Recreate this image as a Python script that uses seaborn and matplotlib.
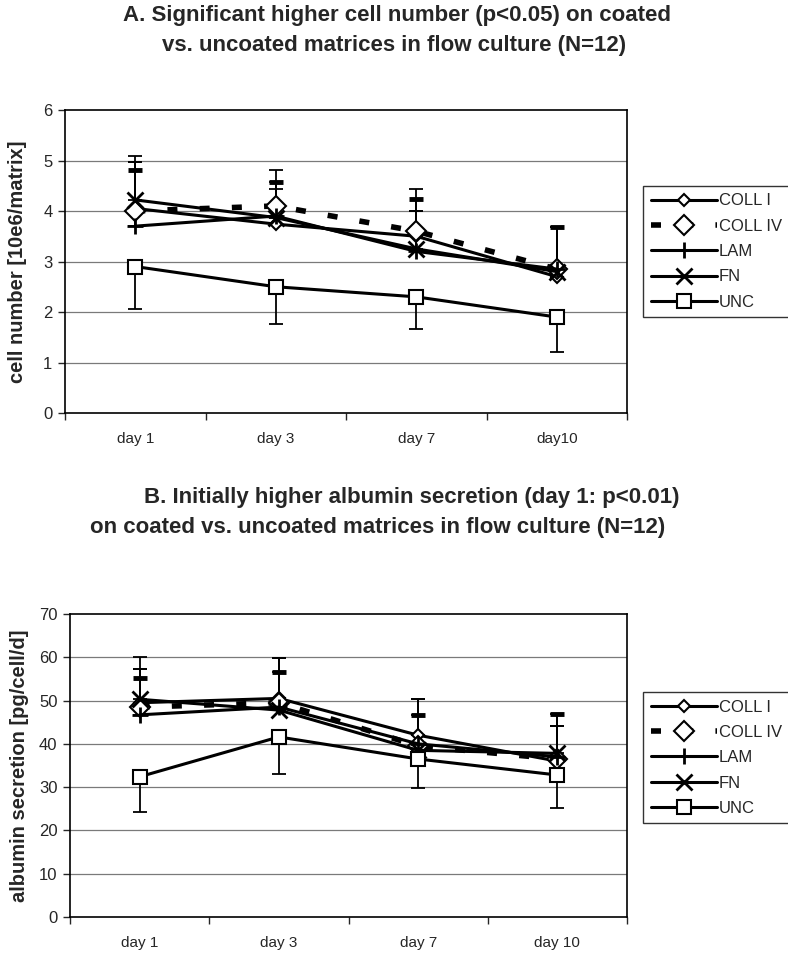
import numpy as np
import pandas as pd
import matplotlib as mpl
mpl.use("Agg")
import matplotlib.pyplot as plt
import seaborn as sns

sns.set_style("white")
plt.rcParams['font.family'] = ['Liberation Sans', 'DejaVu Sans']

series = ['COLL I', 'COLL IV', 'LAM', 'FN', 'UNC']
days_a = ['day 1', 'day 3', 'day 7', 'day10']
days_b = ['day 1', 'day 3', 'day 7', 'day 10']

# A: cell number [10e6/matrix]
cell_mean = {
    'COLL I':  [4.05, 3.74, 3.50, 2.70],
    'COLL IV': [4.00, 4.10, 3.60, 2.85],
    'LAM':     [3.70, 3.90, 3.20, 2.85],
    'FN':      [4.22, 3.87, 3.25, 2.80],
    'UNC':     [2.90, 2.50, 2.30, 1.90],
}
# upper error bar ends (coated) / lower ends (uncoated)
cell_err_end = {
    'COLL I':  [4.97, 4.43, 4.00, 3.68],
    'COLL IV': [4.82, 4.57, 4.23, 3.68],
    'LAM':     [4.97, 4.57, 4.00, 3.68],
    'FN':      [5.08, 4.82, 4.43, 3.68],
    'UNC':     [2.06, 1.77, 1.67, 1.20],
}

# B: albumin secretion [pg/cell/d]
alb_mean = {
    'COLL I':  [49.5, 50.5, 42.0, 36.0],
    'COLL IV': [48.5, 49.5, 39.5, 36.5],
    'LAM':     [46.7, 48.5, 40.0, 37.0],
    'FN':      [50.3, 47.8, 38.5, 37.8],
    'UNC':     [32.4, 41.6, 36.5, 32.8],
}
alb_err_end = {
    'COLL I':  [57.4, 59.8, 46.6, 44.2],
    'COLL IV': [55.1, 56.6, 46.6, 46.9],
    'LAM':     [57.4, 59.8, 50.3, 46.9],
    'FN':      [60.0, 56.6, 50.3, 44.2],
    'UNC':     [24.3, 33.0, 29.8, 25.2],
}

styles = {
    'COLL I':  dict(marker='D', markersize=6.5, lw=2.2, linestyle='-'),
    'COLL IV': dict(marker='D', markersize=10, lw=4, linestyle=(0, (1.8, 4))),
    'LAM':     dict(marker='+', markersize=12, lw=2.2, linestyle='-', markeredgewidth=2),
    'FN':      dict(marker='x', markersize=12, lw=2.2, linestyle='-', markeredgewidth=2),
    'UNC':     dict(marker='s', markersize=10, lw=2.2, linestyle='-'),
}


def draw(ax, days, means, err_end, ymax, ystep, ylabel, label_x, legend_y):
    rows = []
    for s in series:
        for i, d in enumerate(days):
            rows.append((d, i, s, means[s][i], err_end[s][i]))
    df = pd.DataFrame(rows, columns=['day', 'pos', 'series', 'value', 'err'])

    for yv in np.arange(ystep, ymax, ystep):
        ax.axhline(yv, color='#7a7a7a', lw=0.9, zorder=0)

    for s in series:
        d = df[df['series'] == s]
        st = dict(styles[s])
        sns.lineplot(data=d, x='pos', y='value', ax=ax, color='black',
                     markerfacecolor='white', markeredgecolor='black',
                     markeredgewidth=st.pop('markeredgewidth', 1.5),
                     errorbar=None, label=s, zorder=3, **st)
        if s == 'UNC':
            yerr = [d['value'] - d['err'], np.zeros(len(d))]
        else:
            yerr = [np.zeros(len(d)), d['err'] - d['value']]
        ax.errorbar(d['pos'], d['value'], yerr=yerr, fmt='none', ecolor='black',
                    elinewidth=1.3, capsize=5,
                    capthick=3.5 if s == 'COLL IV' else 1.3, zorder=2)

    ax.set_xlim(-0.5, 3.5)
    ax.set_ylim(0, ymax)
    ax.set_yticks(np.arange(0, ymax + ystep / 2, ystep))
    ax.set_xticks([-0.5, 0.5, 1.5, 2.5, 3.5])
    ax.set_xticklabels([])
    ax.set_xticks(range(4), minor=True)
    ax.set_xticklabels(days, minor=True, fontsize=11)
    ax.tick_params(axis='x', which='major', direction='out', length=5, width=1, bottom=True)
    ax.tick_params(axis='x', which='minor', length=0, pad=14)
    ax.tick_params(axis='y', direction='out', length=5, width=1, left=True, labelsize=12, pad=4)
    ax.set_xlabel('')
    ax.set_ylabel(ylabel, fontsize=14.5, fontweight='bold')
    ax.yaxis.set_label_coords(label_x, 0.5)
    for sp in ax.spines.values():
        sp.set_color('black')
        sp.set_linewidth(1.2)

    leg = ax.legend(loc='upper left', bbox_to_anchor=(643 / 788, legend_y),
                    bbox_transform=ax.figure.transFigure, frameon=True,
                    fancybox=False, edgecolor='black', fontsize=12,
                    handlelength=4.0, handletextpad=0.1, labelspacing=0.62,
                    borderpad=0.45, borderaxespad=0)
    leg.get_frame().set_linewidth(1.0)


fig = plt.figure(figsize=(7.88, 9.57), dpi=100)
ax1 = fig.add_axes([65 / 788, 1 - 413 / 957, 562 / 788, 303 / 957])
ax2 = fig.add_axes([70 / 788, 1 - 917 / 957, 557 / 788, 303 / 957])

draw(ax1, days_a, cell_mean, cell_err_end, 6, 1, 'cell number [10e6/matrix]',
     (27 - 65) / 562, 1 - 186 / 957)
draw(ax2, days_b, alb_mean, alb_err_end, 70, 10, 'albumin secretion [pg/cell/d]',
     (29 - 70) / 557, 1 - 692 / 957)

tkw = dict(fontsize=16, fontweight='bold', ha='center', va='center')
fig.text(397 / 788, 1 - 16 / 957, 'A. Significant higher cell number (p<0.05) on coated', **tkw)
fig.text(394 / 788, 1 - 46 / 957, 'vs. uncoated matrices in flow culture (N=12)', **tkw)
fig.text(412 / 788, 1 - 497 / 957, 'B. Initially higher albumin secretion (day 1: p<0.01)', **tkw)
fig.text(378 / 788, 1 - 527 / 957, 'on coated vs. uncoated matrices in flow culture (N=12)', **tkw)

fig.savefig('out.png', dpi=100)
